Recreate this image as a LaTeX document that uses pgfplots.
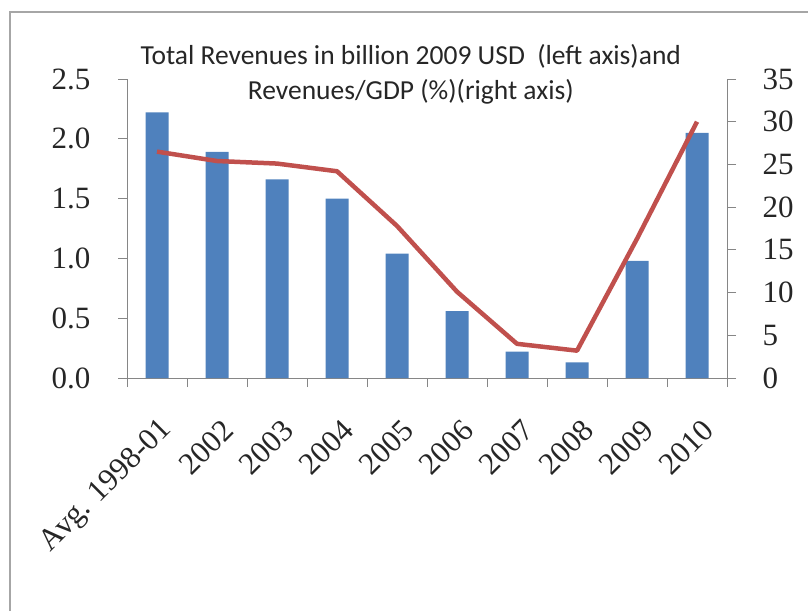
\documentclass[border=0pt]{standalone}
\usepackage{pgfplots}
\pgfplotsset{compat=1.18}
\usepackage{fontspec}
\setmainfont{Liberation Serif}
\newfontfamily\carlito{Carlito}
\definecolor{barblue}{HTML}{4F81BD}
\definecolor{linered}{HTML}{C0504D}
\definecolor{axgray}{HTML}{868686}
\definecolor{framegray}{HTML}{A6A6A6}
\definecolor{txt}{HTML}{262626}
\begin{document}
\begin{tikzpicture}
\path[use as bounding box] (0,0) rectangle (808pt,611pt);
\draw[framegray, line width=1.6pt] (10pt,0) -- (10pt,599pt) -- (808pt,599pt);
\begin{axis}[
  at={(127pt,233pt)}, anchor=south west,
  scale only axis, width=600pt, height=299pt,
  xmin=-0.5, xmax=9.5, ymin=0, ymax=2.5,
  axis x line*=bottom, axis y line*=left,
  axis line style={axgray, line width=0.9pt},
  xtick={0,...,9},
  xticklabels={Avg. 1998-01,2002,2003,2004,2005,2006,2007,2008,2009,2010},
  minor xtick={-0.5,0.5,...,9.5},
  major x tick style={draw=none},
  minor x tick style={axgray, line width=0.9pt},
  y tick style={axgray, line width=0.9pt},
  tick align=outside,
  major tick length=9pt, minor tick length=9pt,
  ytick={0,0.5,...,2.5},
  yticklabel style={/pgf/number format/.cd, fixed, fixed zerofill, precision=1, assume math mode=true, /tikz/.cd,
    font=\fontsize{31}{31}\selectfont, text=txt, xshift=-24pt},
  xticklabel style={inner sep=0pt, anchor=east, xshift=11pt, yshift=-38pt, rotate=45,
    font=\fontsize{31}{31}\selectfont, text=txt},
  title={Total Revenues in billion 2009 USD\ \ (left axis)and\\Revenues/GDP (\%)(right axis)},
  title style={align=center, font=\carlito\fontsize{27.5}{35}\selectfont, text=txt,
    at={(0.473,1)}, anchor=north, yshift=32pt},
  ybar, bar width=23pt,
]
\addplot[fill=barblue, draw=none] coordinates {
  (0,2.22) (1,1.89) (2,1.66) (3,1.50) (4,1.04)
  (5,0.56) (6,0.22) (7,0.13) (8,0.98) (9,2.05)
};
\end{axis}
\begin{axis}[
  at={(127pt,233pt)}, anchor=south west,
  scale only axis, width=600pt, height=299pt,
  xmin=-0.5, xmax=9.5, ymin=0, ymax=35,
  axis x line=none, axis y line*=right,
  axis line style={axgray, line width=0.9pt},
  y tick style={axgray, line width=0.9pt},
  tick align=outside, major tick length=9pt,
  ytick={0,5,...,35},
  yticklabel style={/pgf/number format/assume math mode=true,
    font=\fontsize{31}{31}\selectfont, text=txt, xshift=23pt},
]
\addplot[linered, line width=4.5pt, line join=round, mark=none] coordinates {
  (0,26.5) (1,25.4) (2,25.1) (3,24.2) (4,17.8)
  (5,10.1) (6,4.0) (7,3.2) (8,16.3) (9,30.0)
};
\end{axis}
\end{tikzpicture}
\end{document}
